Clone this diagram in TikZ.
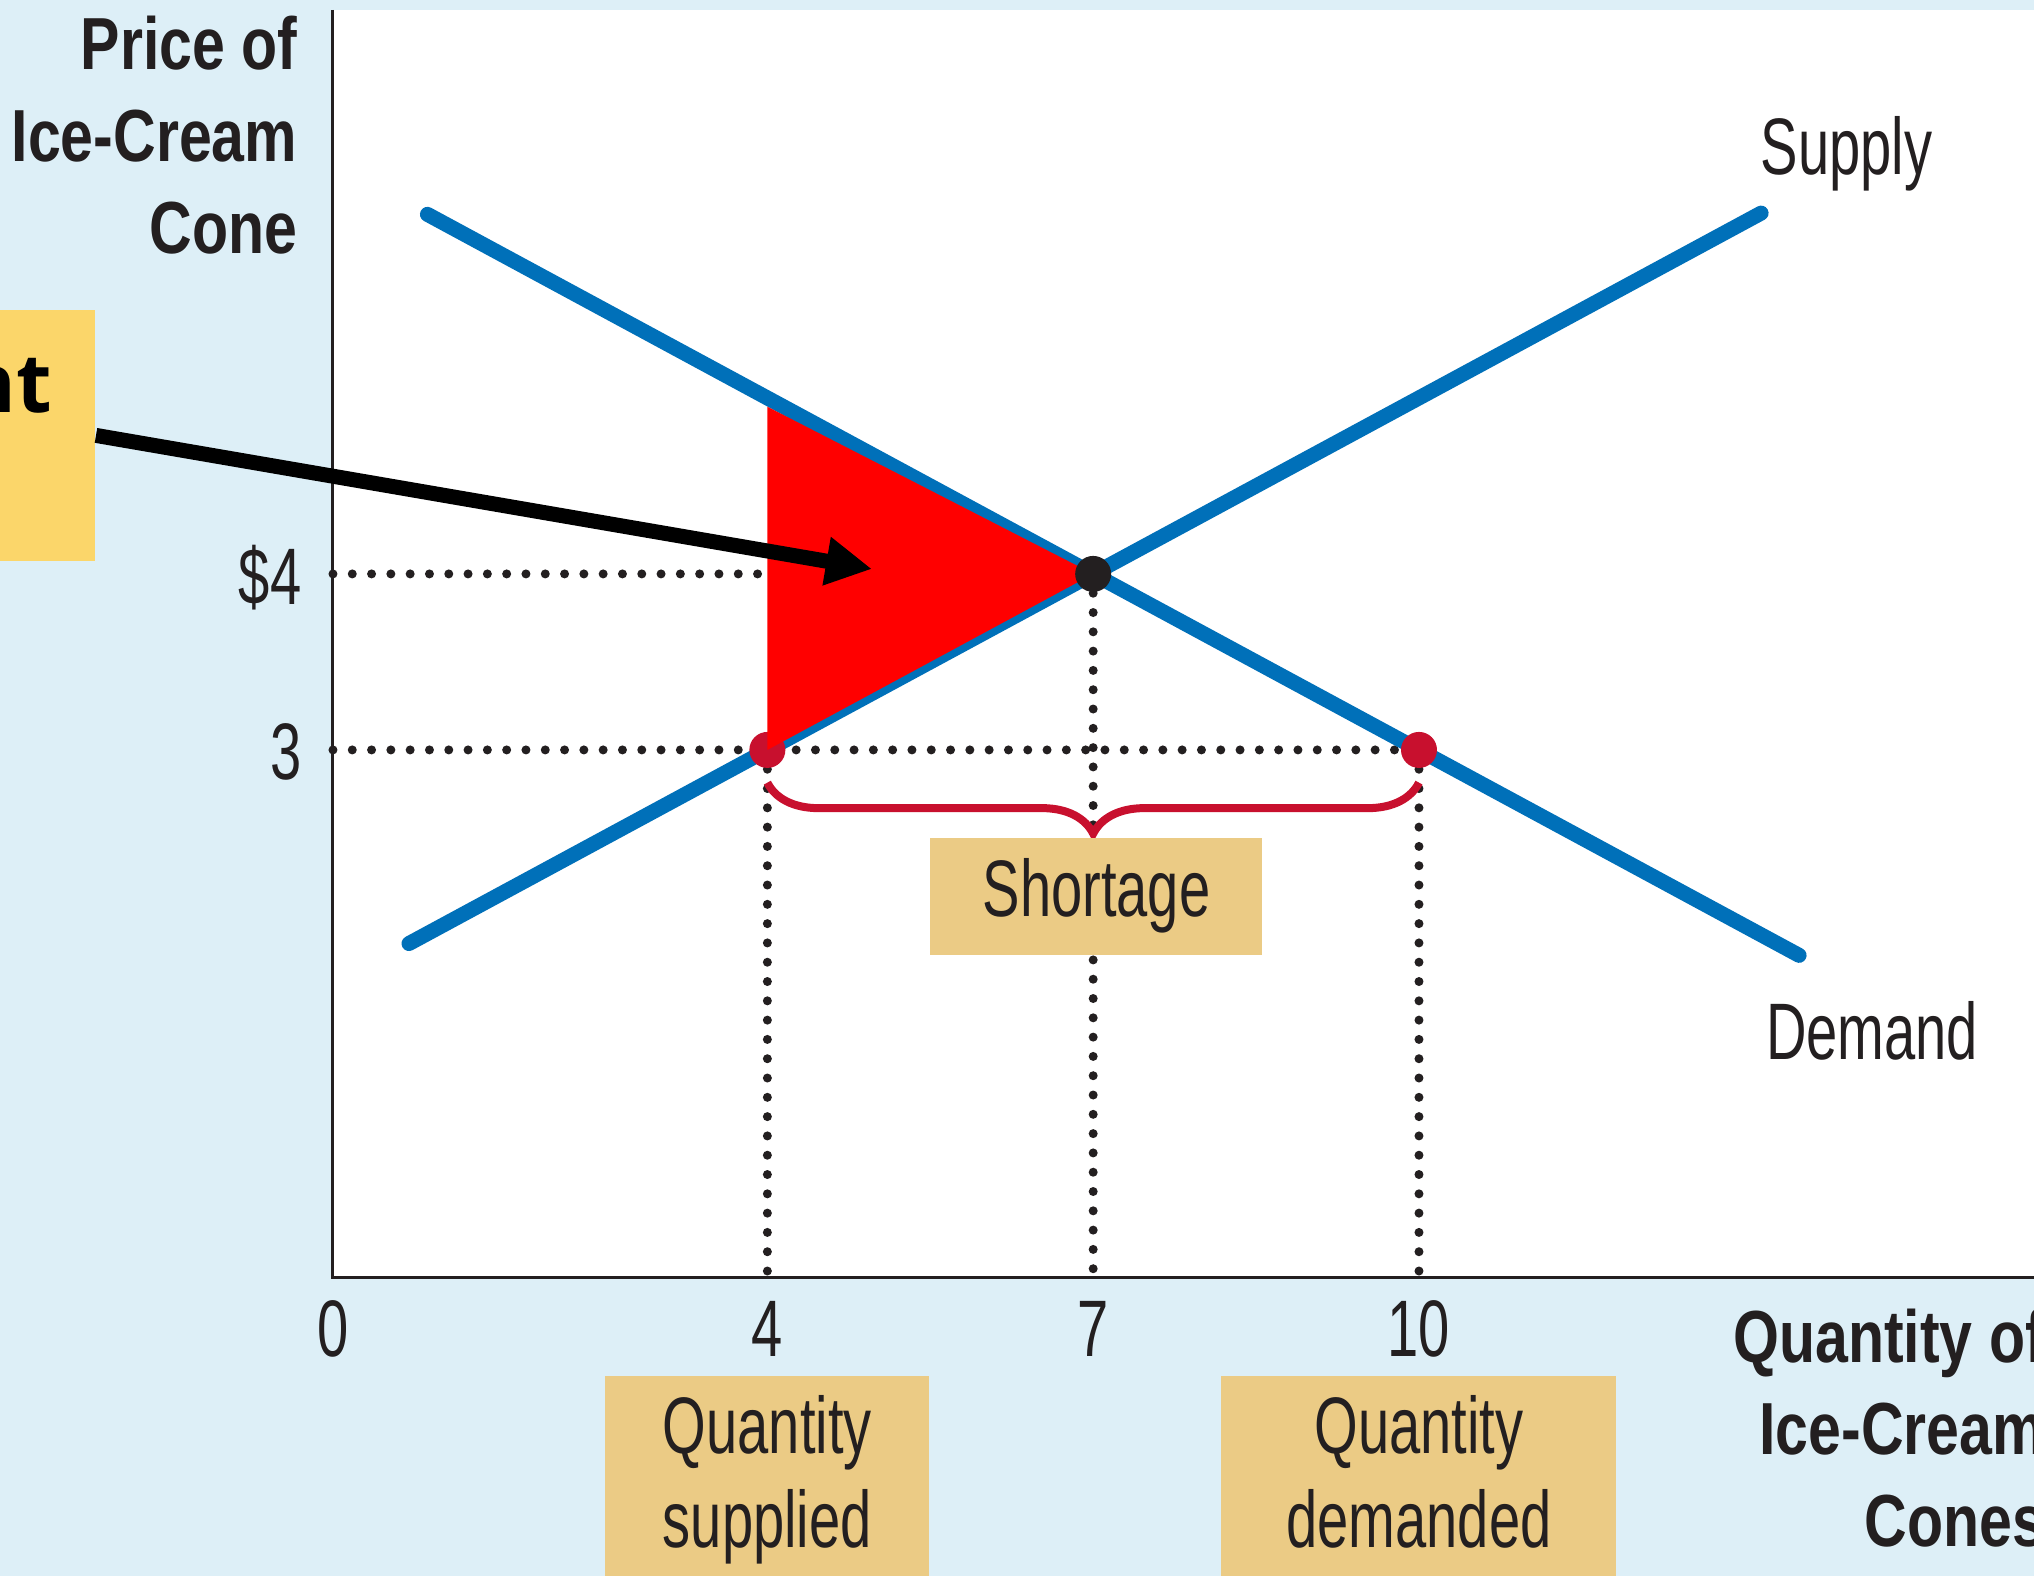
\documentclass[tikz,border=0pt]{standalone}
\usepackage{fontspec}
\usepackage{tikz}
\usetikzlibrary{arrows.meta,decorations.pathreplacing}

\setmainfont{Liberation Sans}[FakeStretch=0.7]
\newfontfamily\axisfont{Liberation Sans}[FakeStretch=0.8]
\newfontfamily\notefont{Open Sans}

\definecolor{panel}{RGB}{221,239,247}
\definecolor{curve}{RGB}{0,112,185}
\definecolor{crimson}{RGB}{200,16,46}
\definecolor{gapred}{RGB}{255,0,0}
\definecolor{tag}{RGB}{235,203,133}
\definecolor{note}{RGB}{251,214,106}
\definecolor{ink}{RGB}{35,31,32}

\begin{document}
  \begin{tikzpicture}[x=1.086cm,y=1.76cm,
      every node/.style={text=ink,inner sep=0pt},
      curveline/.style={curve,line width=0.15cm,line cap=round},
      guide/.style={ink,line width=0.09cm,line cap=round,dash pattern=on 0pt off 0.193cm},
      dot/.style={circle,minimum size=0.36cm},
      lbl/.style={font=\fontsize{22.8}{26.7}\selectfont},
      tagbox/.style={lbl,fill=tag,align=center},
      axislbl/.style={font=\axisfont\bfseries\fontsize{21}{26.2}\selectfont,align=right}]
    \useasboundingbox (-3.066,-1.693) rectangle (15.663,7.261);
    \fill[panel] (-3.066,-1.693) rectangle (15.663,7.261);
    \fill[white] (0,0) rectangle (15.8,7.205);
    \draw[ink,line width=0.03cm] (0,7.205) -- (0,0) -- (15.8,0);

    \draw[guide] (0,4) -- (7,4);
    \draw[guide] (0,3) -- (10,3);
    \foreach \q/\p in {4/3,7/4,10/3}
      \draw[guide] (\q,\p) -- (\q,0);

    \draw[curveline] (0.7,1.9) -- (13.15,6.05);
    \draw[curveline] (0.87,6.043) -- (13.5,1.833);

    \node[dot,fill=crimson] (qs) at (4,3) {};
    \node[dot,fill=crimson] (qd) at (10,3) {};
    \fill[gapred] (4,4.95) -- (7,4) -- (4,3) -- cycle;
    \node[dot,fill=ink] (eq) at (7,4) {};

    \draw[crimson,line width=0.08cm,decorate,decoration={brace,amplitude=0.51cm,mirror}]
      ([yshift=-0.14cm]qs.south) -- ([yshift=-0.14cm]qd.south);
    \node[tagbox,minimum width=3.32cm,minimum height=1.17cm] (short) at (7.03,2.17) {Shortage};

    \foreach \q in {0,4,7,10}
      \node[lbl,anchor=base] (tick\q) at (\q,-0.449) {\q};
    \node[lbl,anchor=base east] (p4) at (-0.285,3.824) {\$4};
    \node[lbl,anchor=base east] (p3) at (-0.285,2.83) {3};

    \node[tagbox,anchor=north,minimum width=3.24cm,inner ysep=0.2cm] (qsbox) at (4,-0.551) {Quantity\\supplied\strut};
    \node[tagbox,anchor=north,minimum width=3.95cm,inner ysep=0.2cm] (qdbox) at (10,-0.551) {Quantity\\demanded\strut};

    \node[lbl,anchor=base west] (supplylbl) at (13.14,6.267) {Supply};
    \node[lbl,anchor=base west] (demandlbl) at (13.19,1.239) {Demand};
    \node[axislbl,anchor=base east] (ylbl) at (-0.322,5.818) {Price of\\Ice-Cream\\Cone};
    \node[axislbl,anchor=base east] (xlbl) at (15.77,-1.528) {Quantity of\\Ice-Cream\\Cones};

    \node[fill=note,minimum width=1.2cm,minimum height=2.51cm,anchor=east] (notebox) at (-2.182,4.787) {};
    \node[font=\notefont\bfseries\fontsize{23.3}{28}\selectfont,text=black,anchor=base east] (notetext) at (-2.578,4.915) {nt};
    \coordinate (gaptip) at (4.963,4.028);
    \draw[black,line width=0.15cm,-{Triangle[length=0.46cm,width=0.46cm]}] (notebox.east) -- (gaptip);
  \end{tikzpicture}
\end{document}
